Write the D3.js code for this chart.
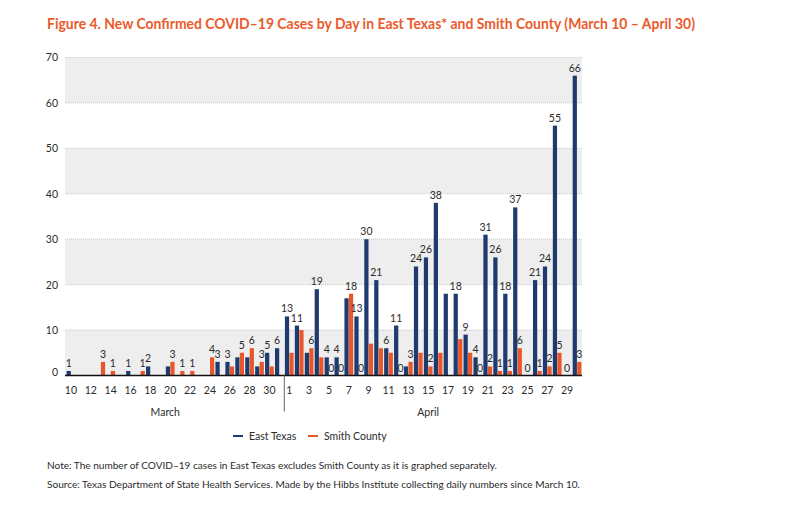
<!DOCTYPE html>
<html>
<head>
<meta charset="utf-8">
<script src="https://cdn.jsdelivr.net/npm/d3@7"></script>
<style>
  html, body { margin: 0; padding: 0; background: #fff; }
  svg { display: block; font-family: Lato, "Open Sans", sans-serif; }
</style>
</head>
<body>
<svg id="chart" width="801" height="506"></svg>
<script>
// ---- data ----
const days = ["10","11","12","13","14","15","16","17","18","19","20","21","22","23","24","25","26","27","28","29","30","31",
  "1","2","3","4","5","6","7","8","9","10","11","12","13","14","15","16","17","18","19","20","21","22","23","24","25","26","27","28","29","30"];
const months = ["March", "April"];
const eastTexas = [1,0,0,0,0,0,1,0,2,0,2,0,0,0,0,3,3,4,4,2,5,6,
  13,11,5,19,4,4,17,13,30,21,6,11,2,24,26,38,18,18,9,4,31,26,18,37,0,21,24,55,0,66];
const smithCounty = [0,0,0,3,1,0,0,1,0,0,3,1,1,0,4,0,2,5,6,3,2,0,
  5,10,6,4,0,0,18,0,7,6,5,0,3,5,2,5,0,8,5,0,2,1,1,6,0,1,2,5,0,3];
// which value labels are shown for each day: E = East Texas, S = Smith County, C = centred zero
const shownLabels = ["E","","","S","S","","E","S","E","","S","S","S","","S","E","E","S","S","S","E","E",
  "E","E","S","E","ES","ES","S","ES","E","E","E","ES","S","E","ES","E","","E","E","ES","ES","ES","ES","ES","C","ES","ES","ES","C","ES"];
const yTicks = [0,10,20,30,40,50,60,70];
const seriesNames = ["East Texas", "Smith County"];
const title = "Figure 4. New Confirmed COVID\u201319 Cases by Day in East Texas* and Smith County (March 10 \u2013 April 30)";
const note = "Note: The number of COVID\u201319 cases in East Texas excludes Smith County as it is graphed separately.";
const source = "Source: Texas Department of State Health Services. Made by the Hibbs Institute collecting daily numbers since March 10.";

// ---- styles ----
const NAVY = "#1f3a6f", ORANGE = "#e8562a", TITLE = "#ea5b2c", TEXT = "#2b2b2b";
const svg = d3.select("#chart");
const pLeft = 66, pRight = 582, pTop = 57.5, pBottom = 375.5;

const idx = d3.range(days.length);
const x = d3.scaleBand().domain(idx).range([pLeft, pRight]).padding(0);
const sub = d3.scaleBand().domain(["E","S"]).range([0.6, x.bandwidth() - 0.6]).paddingInner(0.06);
const y = d3.scaleLinear().domain([0, 70]).range([pBottom, pTop]);

// title
svg.append("text").attr("x", 47).attr("y", 29)
  .attr("fill", TITLE).attr("font-weight", 700).attr("font-size", 14.5)
  .attr("textLength", 648).attr("lengthAdjust", "spacingAndGlyphs")
  .text(title);

// background bands
const bands = [[0,10],[20,30],[40,50],[60,70]];
svg.append("g").selectAll("rect").data(bands).join("rect")
  .attr("x", pLeft - 1).attr("width", pRight - pLeft + 1)
  .attr("y", d => y(d[1])).attr("height", d => y(d[0]) - y(d[1]))
  .attr("fill", "#eeeeee");

// gridlines
svg.append("g").selectAll("line").data(yTicks.filter(v => v > 0)).join("line")
  .attr("x1", pLeft - 1).attr("x2", pRight)
  .attr("y1", d => y(d)).attr("y2", d => y(d))
  .attr("stroke", "#bdbdbd").attr("stroke-width", 0.8).attr("stroke-dasharray", "1,1");

// y axis labels
const yAxis = d3.axisLeft(y).tickValues(yTicks).tickSize(0).tickPadding(0);
const yg = svg.append("g").attr("transform", `translate(${pLeft - 8},0)`).call(yAxis);
yg.select(".domain").remove();
yg.selectAll("text").attr("font-family", "Lato, sans-serif").attr("font-size", 10.5).attr("fill", TEXT)
  .attr("dy", d => d === 0 ? "0" : "0.32em");

// bars
const gE = svg.append("g");
gE.selectAll("rect").data(idx).join("rect")
  .attr("x", i => x(i) + sub("E")).attr("width", sub.bandwidth())
  .attr("y", i => y(eastTexas[i])).attr("height", i => y(0) - y(eastTexas[i]))
  .attr("fill", NAVY);
const gS = svg.append("g");
gS.selectAll("rect").data(idx).join("rect")
  .attr("x", i => x(i) + sub("S")).attr("width", sub.bandwidth())
  .attr("y", i => y(smithCounty[i])).attr("height", i => y(0) - y(smithCounty[i]))
  .attr("fill", ORANGE);

// value labels
const labels = [];
idx.forEach(i => {
  const s = shownLabels[i];
  if (s.includes("E")) labels.push({cx: x(i) + sub("E") + sub.bandwidth() / 2, v: eastTexas[i]});
  if (s.includes("S")) labels.push({cx: x(i) + sub("S") + sub.bandwidth() / 2, v: smithCounty[i]});
  if (s.includes("C")) labels.push({cx: x(i) + x.bandwidth() / 2, v: eastTexas[i]});
});
svg.append("g").selectAll("text").data(labels).join("text")
  .attr("x", d => d.cx).attr("y", d => y(d.v) - 4)
  .attr("text-anchor", "middle").attr("font-size", 10.5).attr("fill", TEXT)
  .text(d => d.v);

// baseline
svg.append("line").attr("x1", pLeft - 1).attr("x2", pRight).attr("y1", pBottom).attr("y2", pBottom)
  .attr("stroke", "#111").attr("stroke-width", 1.6);

// x tick labels
const shownTick = (d, i) => (i < 22 ? (+d % 2 === 0) : (+d % 2 === 1));
const xAxis = d3.axisBottom(x).tickSize(0).tickPadding(0)
  .tickFormat(i => shownTick(days[i], i) ? days[i] : "");
const xg = svg.append("g").attr("transform", `translate(0,${pBottom + 15})`).call(xAxis);
xg.select(".domain").remove();
xg.selectAll("text").attr("font-family", "Lato, sans-serif").attr("font-size", 10.5).attr("fill", TEXT).attr("dy", "0.32em");

// month separator
const sepX = x(22);
svg.append("line").attr("x1", sepX).attr("x2", sepX).attr("y1", pBottom).attr("y2", pBottom + 36)
  .attr("stroke", "#666").attr("stroke-width", 1);

// month labels
const monthPos = [ (x(9) + x(10) + x.bandwidth()) / 2, x(36) + x.bandwidth() / 2 ];
svg.append("g").selectAll("text").data(months).join("text")
  .attr("x", (d, i) => monthPos[i]).attr("y", 415.5)
  .attr("text-anchor", "middle").attr("font-size", 10.5).attr("fill", TEXT)
  .text(d => d);

// legend
const legendX = [233, 308];
const lg = svg.append("g").selectAll("g").data(seriesNames).join("g")
  .attr("transform", (d, i) => `translate(${legendX[i]},436)`);
lg.append("line").attr("x1", 0).attr("x2", 10).attr("y1", 0).attr("y2", 0)
  .attr("stroke", (d, i) => i === 0 ? NAVY : ORANGE).attr("stroke-width", 2);
lg.append("text").attr("x", 16).attr("y", 3.6).attr("font-size", 10.5).attr("fill", TEXT).text(d => d);

// notes
svg.append("text").attr("x", 47).attr("y", 468.5).attr("font-size", 9.5).attr("fill", TEXT)
  .attr("textLength", 450).attr("lengthAdjust", "spacingAndGlyphs").text(note);
svg.append("text").attr("x", 47).attr("y", 487.5).attr("font-size", 9.5).attr("fill", TEXT)
  .attr("textLength", 533).attr("lengthAdjust", "spacingAndGlyphs").text(source);
</script>
</body>
</html>
